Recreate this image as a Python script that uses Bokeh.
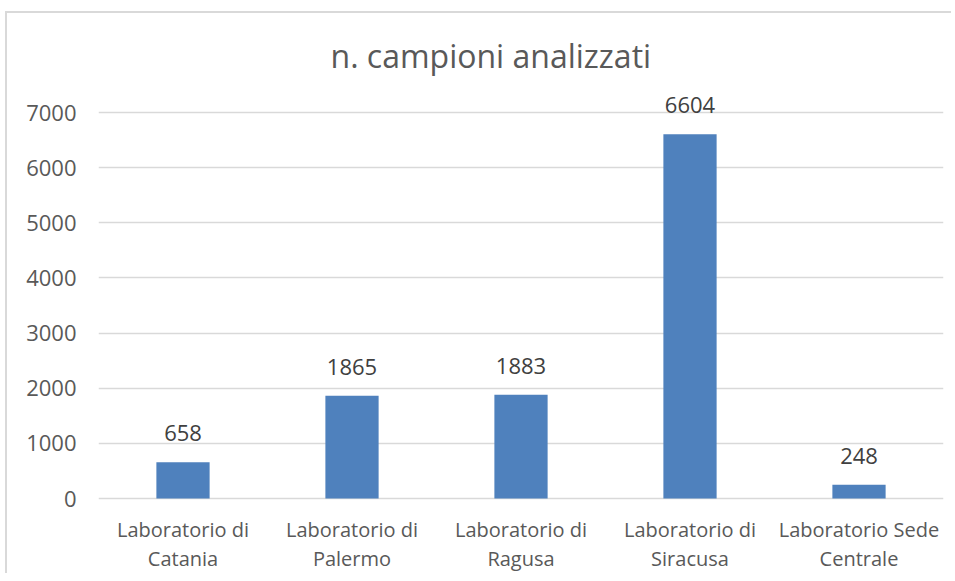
from bokeh.plotting import figure
from bokeh.models import ColumnDataSource, FixedTicker, LabelSet, FactorRange, Range1d
from bokeh.core.properties import value
from bokeh.embed import file_html
from bokeh.resources import INLINE

categories = ["Laboratorio di Catania", "Laboratorio di Palermo", "Laboratorio di Ragusa",
              "Laboratorio di Siracusa", "Laboratorio Sede Centrale"]
tick_line1 = ["Laboratorio di", "Laboratorio di", "Laboratorio di", "Laboratorio di", "Laboratorio Sede"]
tick_line2 = ["Catania", "Palermo", "Ragusa", "Siracusa", "Centrale"]
values = [658, 1865, 1883, 6604, 248]
y_ticks = [0, 1000, 2000, 3000, 4000, 5000, 6000, 7000]
title_text = "n. campioni analizzati"

FONT = "Open Sans"

source = ColumnDataSource(data=dict(cat=categories, val=values, lab=[str(v) for v in values],
                                    l1=tick_line1, l2=tick_line2, zero=[0] * len(values)))

p = figure(width=946, height=562, x_range=FactorRange(*categories), y_range=Range1d(-1396, 7671),
           output_backend="svg", toolbar_location=None,
           min_border_left=91, min_border_right=10, min_border_top=62, min_border_bottom=0,
           styles={"margin-left": "5px", "margin-top": "11px",
                   "border-top": "2px solid #d9d9d9", "border-left": "2px solid #d9d9d9",
                   "border-right": "none", "border-bottom": "none",
                   "outline": "none", "box-shadow": "none"})

p.vbar(x="cat", top="val", width=0.315, source=source, fill_color="#4F81BD", line_color=None)

labels = LabelSet(x="cat", y="val", text="lab", source=source, text_align="center",
                  text_baseline="bottom", y_offset=21, text_font_size="22px",
                  text_font=value(FONT), text_color="#404040")
p.add_layout(labels)

for col, off in (("l1", -31), ("l2", -60)):
    p.add_layout(LabelSet(x="cat", y="zero", text=col, source=source, text_align="center",
                          text_baseline="middle", y_offset=off, text_font_size="20px",
                          text_font=value(FONT), text_color="#595959"))

p.title.text = title_text
p.title.align = "left"
p.title.offset = 232
p.title.text_font = FONT
p.title.text_font_size = "32px"
p.title.text_font_style = "normal"
p.title.text_color = "#595959"
p.title.standoff = -2

p.yaxis.ticker = FixedTicker(ticks=y_ticks)
p.yaxis.major_label_text_font = FONT
p.yaxis.major_label_text_font_size = "22px"
p.yaxis.major_label_text_color = "#595959"
p.yaxis.major_label_standoff = 16
p.yaxis.axis_line_color = None
p.yaxis.major_tick_line_color = None
p.yaxis.minor_tick_line_color = None

p.xaxis.visible = False

p.xgrid.grid_line_color = None
p.ygrid.grid_line_color = "#d9d9d9"
p.ygrid.grid_line_width = 1.5
p.outline_line_color = None
p.border_fill_color = "white"
p.x_range.range_padding = 0
p.x_range.group_padding = 0

open("out.html", "w").write(file_html(p, INLINE))
